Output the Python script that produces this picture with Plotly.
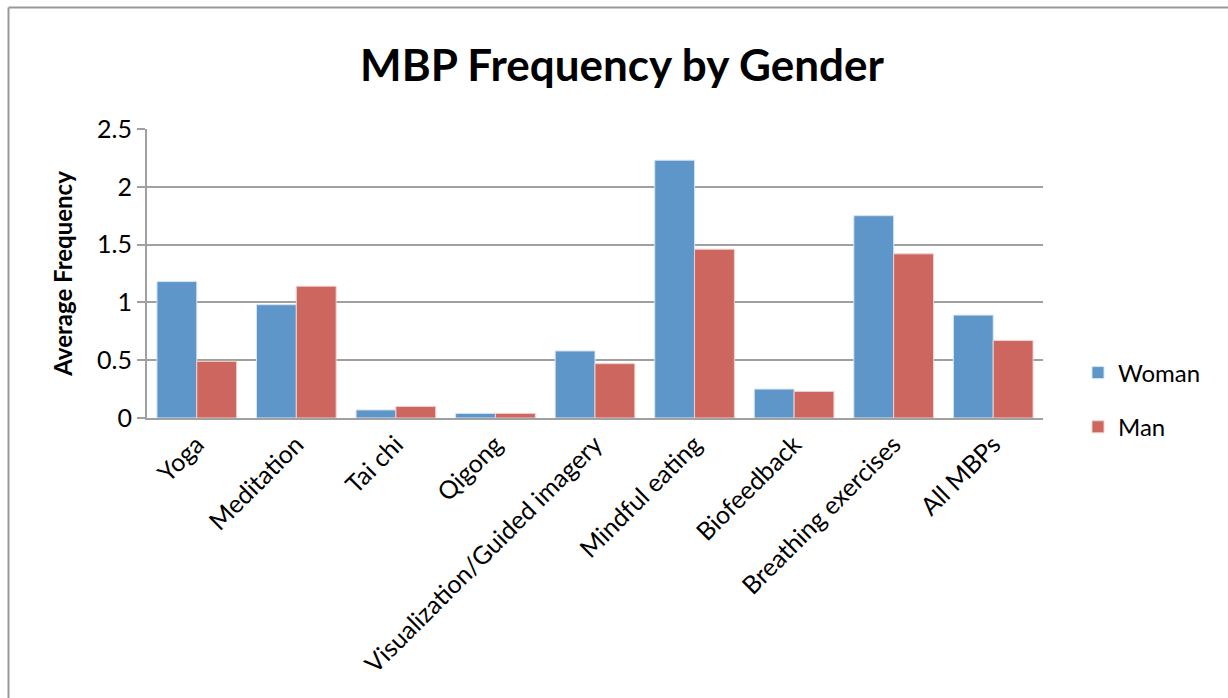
import plotly.graph_objects as go

# Mind-body practice categories and mean frequency per gender
categories = ["Yoga", "Meditation", "Tai chi", "Qigong", "Visualization/Guided imagery",
              "Mindful eating", "Biofeedback", "Breathing exercises", "All MBPs"]
woman = [1.18, 0.98, 0.07, 0.04, 0.58, 2.23, 0.25, 1.75, 0.89]
man = [0.49, 1.14, 0.10, 0.04, 0.47, 1.46, 0.23, 1.42, 0.67]
y_ticks = [0, 0.5, 1, 1.5, 2, 2.5]
y_tick_text = ["0", "0.5", "1", "1.5", "2", "2.5"]

W, H = 1228, 698
L, R, T, B = 147, 185, 129, 280
FONT = "Lato, 'Open Sans', sans-serif"

fig = go.Figure()
fig.add_trace(go.Bar(x=categories, y=woman, name="Woman", legendgroup="w",
                     marker=dict(color="#5F96C9", line=dict(color="#D6E3F1", width=1))))
fig.add_trace(go.Bar(x=categories, y=man, name="Man", legendgroup="m",
                     marker=dict(color="#CC665F", line=dict(color="#F0D0CD", width=1))))

# Chart frame (top and left edges)
pw, ph = W - L - R, H - T - B
x0 = (8.5 - L) / pw
y0 = (H - 7.5 - B) / ph
fig.add_shape(type="line", xref="paper", yref="paper", x0=x0, x1=(W + 5 - L) / pw,
              y0=y0, y1=y0, line=dict(color="#999999", width=2))
fig.add_shape(type="line", xref="paper", yref="paper", x0=x0, x1=x0,
              y0=y0, y1=(-5 - B) / ph, line=dict(color="#999999", width=2))

fig.update_layout(
    width=W, height=H,
    margin=dict(l=L, r=R, t=T, b=B),
    paper_bgcolor="white", plot_bgcolor="white",
    barmode="group", bargap=0.2, bargroupgap=0,
    font=dict(family=FONT, color="black"),
    title=dict(text="<b>MBP Frequency by Gender</b>", x=622 / W, xref="container",
               y=1 - 66 / H, yanchor="middle", xanchor="center",
               font=dict(size=44, family=FONT, color="black")),
    legend=dict(x=1 + (1078 - (W - R)) / pw, xanchor="left", y=(418 - 400) / ph,
                yanchor="middle", font=dict(size=24, family=FONT), tracegroupgap=20,
                itemwidth=30, bgcolor="rgba(0,0,0,0)"),
    showlegend=True,
)
fig.update_xaxes(showline=True, linecolor="#A0A0A0", linewidth=2,
                 tickangle=-45, tickfont=dict(size=25, family=FONT),
                 ticks="", showgrid=False)
fig.update_yaxes(range=[0, 2.5], tickvals=y_ticks, ticktext=y_tick_text,
                 showline=True, linecolor="#A0A0A0", linewidth=2,
                 gridcolor="#A0A0A0", gridwidth=2, zeroline=False,
                 ticks="outside", ticklen=8, tickcolor="#A0A0A0", tickwidth=2,
                 tickfont=dict(size=25, family=FONT),
                 title=dict(text="<b>Average Frequency</b>", font=dict(size=24, family=FONT),
                            standoff=18))

fig.write_html("out.html")
